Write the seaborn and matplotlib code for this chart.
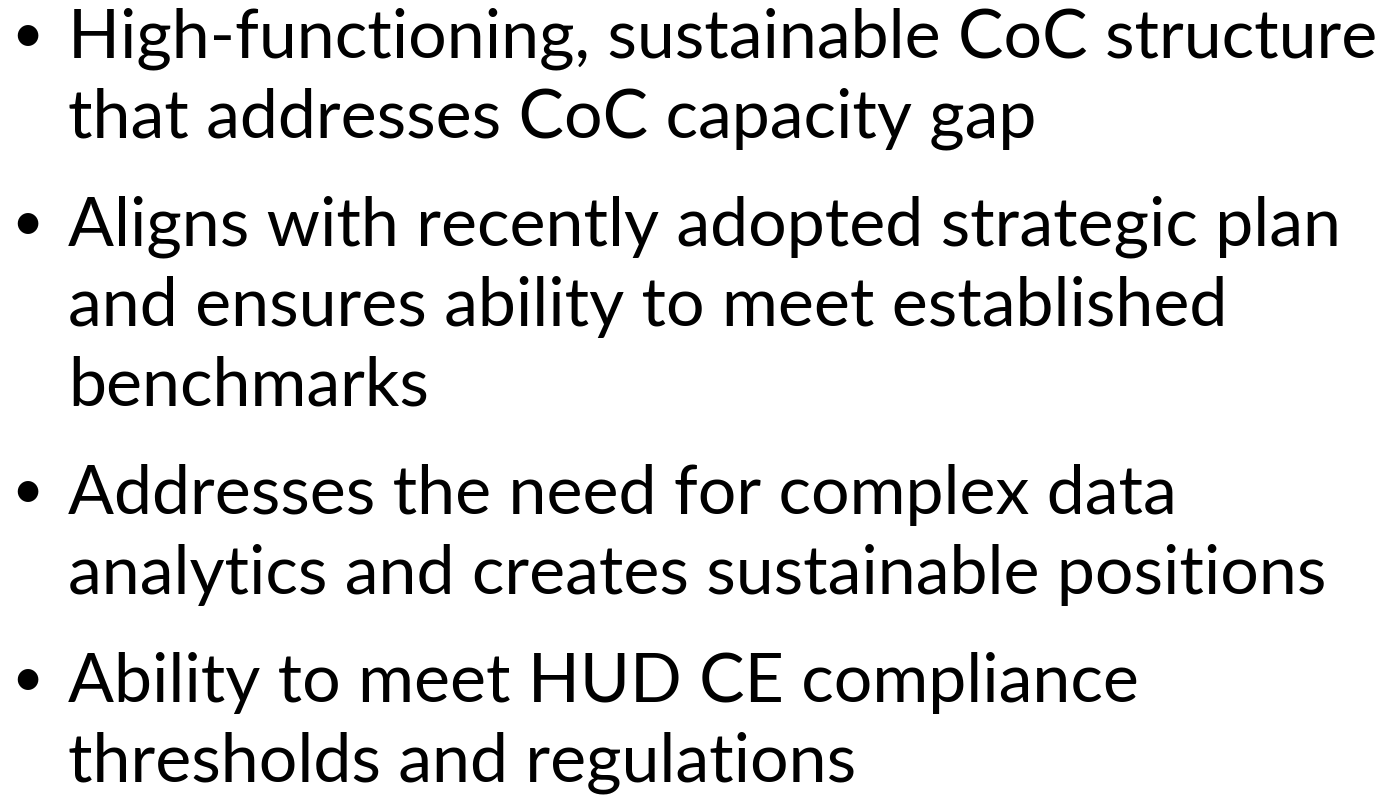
import matplotlib
matplotlib.use("Agg")
import matplotlib.pyplot as plt
import seaborn as sns

# slide text, one list per bullet (line breaks as on the slide)
bullet_1 = ["High-functioning, sustainable CoC structure",
            "that addresses CoC capacity gap"]
bullet_2 = ["Aligns with recently adopted strategic plan",
            "and ensures ability to meet established",
            "benchmarks"]
bullet_3 = ["Addresses the need for complex data",
            "analytics and creates sustainable positions"]
bullet_4 = ["Ability to meet HUD CE compliance",
            "thresholds and regulations"]
bullets = [bullet_1, bullet_2, bullet_3, bullet_4]

W, H = 1398, 795
FIRST_BASELINE = 58
LINE_STEP = 80
BULLET_GAP = 28
TEXT_X = 68
BULLET_X = 27
FONT_SIZE = 49
BULLET_SIZE = 40

sns.set_theme(style="white")
plt.rcParams['font.family'] = ['Lato', 'DejaVu Sans']

fig = plt.figure(figsize=(W / 100, H / 100), dpi=100)
ax = fig.add_axes([0, 0, 1, 1])
ax.set_xlim(0, W)
ax.set_ylim(H, 0)
ax.axis("off")

y = FIRST_BASELINE
for lines in bullets:
    ax.text(BULLET_X, y - 6, "\u2022", fontsize=BULLET_SIZE, ha="center", va="baseline", color="black")
    for line in lines:
        ax.text(TEXT_X, y, line, fontsize=FONT_SIZE, ha="left", va="baseline", color="black")
        y += LINE_STEP
    y += BULLET_GAP

fig.savefig("out.png", dpi=100, facecolor="white")
